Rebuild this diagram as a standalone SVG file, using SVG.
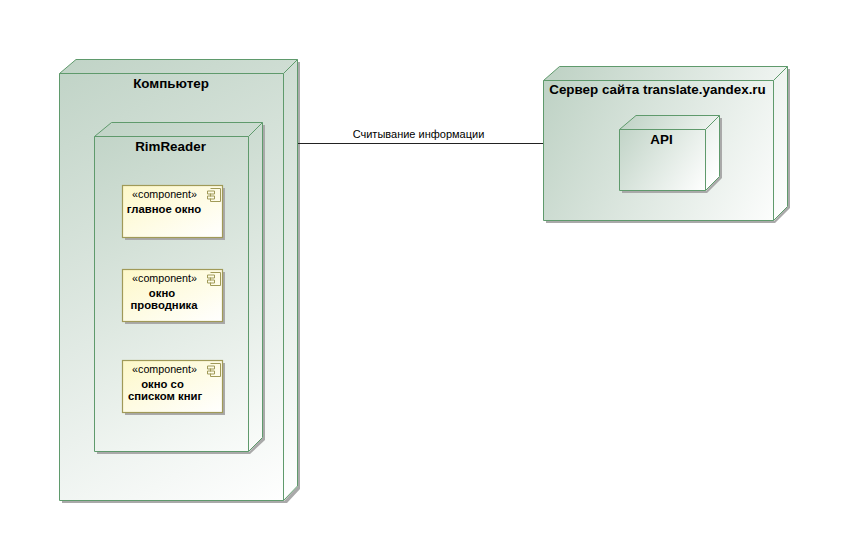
<svg xmlns="http://www.w3.org/2000/svg" width="847" height="537" viewBox="0 0 847 537">
<style>
.s{fill:#a9a9a9}
.n{stroke:#5f9a6c;stroke-width:1;stroke-linejoin:miter}
.e{fill:none;stroke:#5f9a6c;stroke-width:1}
.c{fill:url(#cg);stroke:#a09a58;stroke-width:1.2}
.i{fill:none;stroke:#a09a58;stroke-width:1}
text{font-family:"Liberation Sans",Arial,sans-serif;fill:#000}
.t{font-size:13.4px;font-weight:bold;text-anchor:middle}
.b{font-size:11.3px;font-weight:bold;text-anchor:middle}
.k{font-size:10.7px;text-anchor:middle}
.l{font-size:11px;text-anchor:middle}
</style>
<defs>
<linearGradient id="g1" gradientUnits="userSpaceOnUse" x1="60" y1="60" x2="297" y2="500"><stop offset="0" stop-color="#c0d3c6"/><stop offset="1" stop-color="#fff"/></linearGradient>
<linearGradient id="g2" gradientUnits="userSpaceOnUse" x1="95" y1="122" x2="262" y2="451"><stop offset="0" stop-color="#c0d3c6"/><stop offset="1" stop-color="#fafcfa"/></linearGradient>
<linearGradient id="g3" gradientUnits="userSpaceOnUse" x1="543" y1="100" x2="788" y2="221"><stop offset="0" stop-color="#c0d3c6"/><stop offset="1" stop-color="#fff"/></linearGradient>
<linearGradient id="g4" gradientUnits="userSpaceOnUse" x1="620" y1="125" x2="710" y2="185"><stop offset="0" stop-color="#c0d3c6"/><stop offset="1" stop-color="#fff"/></linearGradient>
<linearGradient id="cg" x1="0" y1="0" x2="1" y2="1"><stop offset="0" stop-color="#fdf8c8"/><stop offset="1" stop-color="#fff"/></linearGradient>
<path id="ci" class="i" d="M3 0H13V13H3V10M3 5V8M0 2.500H7V5.500H0ZM0 7.500H7V10.500H0Z"/>
</defs>
<rect width="847" height="537" fill="#fff"/>
<g id="node-computer">
<path class="s" d="M62 503H287L300 489V62H298V486L284 501H62Z"/>
<path class="n" fill="url(#g1)" d="M59.500 73.500L76 59.500H297.500V486L283.500 500.500H59.500Z"/>
<path class="e" d="M59.500 73.500H283.500V500.500M283.500 73.500L297.500 59.500"/>
<text class="t" x="171" y="88">Компьютер</text>
</g>
<g id="node-rimreader">
<path class="s" d="M97 454H250L265 440V125H263V437L249 452H97Z"/>
<path class="n" fill="url(#g2)" d="M94.500 136.500L111.500 122.500H262.500V437.500L248.500 451.500H94.500Z"/>
<path class="e" d="M94.500 136.500H248.500V451.500M248.500 136.500L262.500 122.500"/>
<text class="t" x="170.500" y="151">RimReader</text>
</g>
<g id="comp-main">
<rect class="s" x="125" y="188" width="100" height="52"/>
<rect class="c" x="122.500" y="185.500" width="100" height="52"/>
<text class="k" x="164.500" y="198">«component»</text>
<use href="#ci" x="207.500" y="188.500"/>
<text class="b" x="164" y="213">главное окно</text>
</g>
<g id="comp-explorer">
<rect class="s" x="125" y="272" width="100" height="52"/>
<rect class="c" x="122.500" y="269.500" width="100" height="52"/>
<text class="k" x="164.500" y="282">«component»</text>
<use href="#ci" x="207.500" y="272.500"/>
<text class="b" x="162" y="297">окно</text>
<text class="b" x="164" y="309">проводника</text>
</g>
<g id="comp-books">
<rect class="s" x="125" y="363" width="100" height="52"/>
<rect class="c" x="122.500" y="360.500" width="100" height="52"/>
<text class="k" x="164.500" y="373">«component»</text>
<use href="#ci" x="207.500" y="363.500"/>
<text class="b" x="162.500" y="388">окно со</text>
<text class="b" x="165" y="400">списком книг</text>
</g>
<g id="node-server">
<path class="s" d="M546 223H775L790 208V69H788V206L774 221H546Z"/>
<path class="n" fill="url(#g3)" d="M543.500 80.500L559.500 66.500H787.500V206.500L773.500 220.500H543.500Z"/>
<path class="e" d="M543.500 80.500H773.500V220.500M773.500 80.500L787.500 66.500"/>
<text class="t" x="657.500" y="94">Сервер сайта translate.yandex.ru</text>
</g>
<g id="node-api">
<path class="s" d="M622 193H707L722 178V118H720V176L706 191H622Z"/>
<path class="n" fill="url(#g4)" d="M619.500 129.500L636 115.500H719.500V176.500L705.500 190.500H619.500Z"/>
<path class="e" d="M619.500 129.500H705.500V190.500M705.500 129.500L719.500 115.500"/>
<text class="t" x="661.500" y="144">API</text>
</g>
<g id="connectors">
<line x1="298" y1="143.500" x2="543" y2="143.500" stroke="#222" stroke-width="1"/>
<text class="l" x="418.500" y="138">Считывание информации</text>
</g>
</svg>
